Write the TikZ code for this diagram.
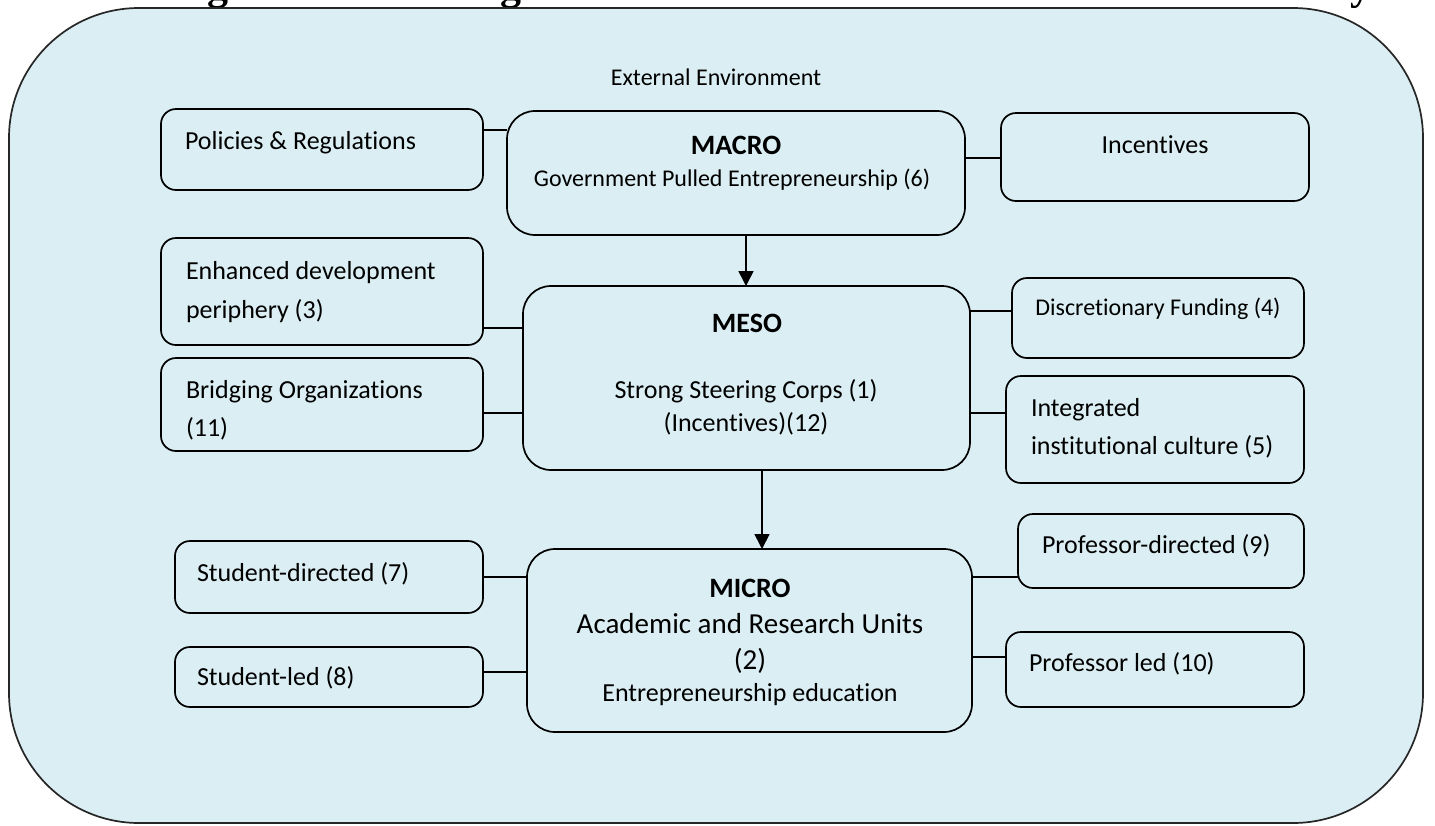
\documentclass[tikz,border=0pt]{standalone}
\usepackage{fontspec}
\setmainfont{Carlito}[Ligatures=NoCommon]
\newfontfamily\titlefont{Liberation Serif}
\usetikzlibrary{arrows.meta}
\definecolor{envfill}{HTML}{DAEEF3}
\begin{document}
\begin{tikzpicture}[x=1pt,y=-1pt,
  box/.style={draw=black, line width=1.7pt, fill=envfill, rounded corners=15pt, inner sep=0pt, outer sep=0pt},
  bigbox/.style={box, rounded corners=28pt},
  txt/.style={inner sep=0pt, outer sep=0pt, font=\fontsize{26}{39}\selectfont},
  smalltxt/.style={txt, font=\fontsize{24}{29}\selectfont},
  headtxt/.style={txt, font=\bfseries\fontsize{28}{34}\selectfont},
  conn/.style={line width=1.7pt},
  arr/.style={line width=1.7pt, -{Triangle[width=15pt,length=15pt]}}]
\useasboundingbox (0,0) rectangle (1435,825);
\fill[white] (0,0) rectangle (1435,825);

% title (clipped by page top, as in the reference)
\node[inner sep=0pt, anchor=base east, font=\titlefont\bfseries\fontsize{42}{50}\selectfont] (title) at (1372,-1) {Figure 1: The Integrated Multi-Level Framework of the University};

% environment
\node[draw=black!85, line width=1.7pt, fill=envfill, rounded corners=130pt, inner sep=0pt,
      minimum width=1414pt, minimum height=815pt] (env) at (716,415.5) {};
\node[smalltxt, anchor=base] (envt) at (716,85) {External Environment};

% boxes
\node[box, minimum width=322pt, minimum height=81pt]  (pol)   at (322,149.5) {};
\node[bigbox, minimum width=458pt, minimum height=124pt] (macro) at (736,173) {};
\node[box, minimum width=308pt, minimum height=88pt]  (inc)   at (1155,157) {};
\node[box, minimum width=322pt, minimum height=107pt] (enh)   at (322,291.5) {};
\node[bigbox, minimum width=447pt, minimum height=184pt] (meso) at (746.5,378) {};
\node[box, minimum width=292pt, minimum height=80pt]  (disc)  at (1158,318) {};
\node[box, minimum width=322pt, minimum height=93pt]  (bri)   at (322,404.5) {};
\node[box, minimum width=298pt, minimum height=107pt] (integ) at (1155,429.5) {};
\node[box, minimum width=308pt, minimum height=72pt]  (sd)    at (329,577) {};
\node[bigbox, minimum width=445pt, minimum height=183pt] (micro) at (749.5,640.5) {};
\node[box, minimum width=308pt, minimum height=60pt]  (sl)    at (329,677) {};
\node[box, minimum width=286pt, minimum height=74pt]  (pd)    at (1161,551) {};
\node[box, minimum width=298pt, minimum height=75pt]  (pl)    at (1155,669.5) {};

% texts
\node[txt, anchor=base west] (polt) at (185,149) {Policies \& Regulations};
\node[headtxt, anchor=base] (macrot) at (736,154) {MACRO};
\node[smalltxt, anchor=base] (macros) at (732,186) {Government Pulled Entrepreneurship (6)};
\node[txt, anchor=base] (inct) at (1155,153) {Incentives};
\node[txt, anchor=north west, align=left] (enht) at (186,255.6) {\rule{0pt}{0.9em}Enhanced development\\periphery (3)};
\node[headtxt, anchor=base] (mesot) at (747,332) {MESO};
\node[txt, anchor=north, align=center, font=\fontsize{26}{33}\selectfont] (mesos) at (746,374.6) {\rule{0pt}{0.9em}Strong Steering Corps (1)\\(Incentives)(12)};
\node[smalltxt, anchor=base] (disct) at (1158,315) {Discretionary Funding (4)};
\node[txt, anchor=north west, align=left, font=\fontsize{26}{38}\selectfont] (brit) at (186,374.6) {\rule{0pt}{0.9em}Bridging Organizations\\(11)};
\node[txt, anchor=north west, align=left, font=\fontsize{26}{38}\selectfont] (integt) at (1031,392.6) {\rule{0pt}{0.9em}Integrated\\institutional culture (5)};
\node[txt, anchor=base west] (sdt) at (197,581) {Student-directed (7)};
\node[txt, anchor=base west] (slt) at (197,685) {Student-led (8)};
\node[txt, anchor=base west] (pdt) at (1042,553) {Professor-directed (9)};
\node[txt, anchor=base west] (plt) at (1029,671) {Professor led (10)};
\node[headtxt, anchor=base] (microt) at (750,597) {MICRO};
\node[txt, anchor=north, align=center, font=\fontsize{29}{36}\selectfont] (micros) at (750,606.9) {\rule{0pt}{0.9em}Academic and Research Units\\(2)};
\node[txt, anchor=base] (microe) at (750,701) {Entrepreneurship education};

% connector levels
\coordinate (hA) at (0,130);
\coordinate (hB) at (0,158);
\coordinate (hC) at (0,328);
\coordinate (hD) at (0,413);
\coordinate (hE) at (0,311);
\coordinate (hF) at (0,577);
\coordinate (hG) at (0,672);
\coordinate (hH) at (0,657);
\coordinate (vA) at (746,0);
\coordinate (vB) at (762,0);

\draw[conn] (pol.east |- hA) -- (macro.west |- hA);
\draw[conn] (macro.east |- hB) -- (inc.west |- hB);
\draw[conn] (enh.east |- hC) -- (meso.west |- hC);
\draw[conn] (bri.east |- hD) -- (meso.west |- hD);
\draw[conn] (meso.east |- hE) -- (disc.west |- hE);
\draw[conn] (meso.east |- hD) -- (integ.west |- hD);
\draw[conn] (sd.east |- hF) -- (micro.west |- hF);
\draw[conn] (sl.east |- hG) -- (micro.west |- hG);
\draw[conn] (micro.east |- hF) -- (pd.west |- hF);
\draw[conn] (micro.east |- hH) -- (pl.west |- hH);

\draw[arr] (macro.south -| vA) -- (meso.north -| vA);
\draw[arr] (meso.south -| vB) -- (micro.north -| vB);
\end{tikzpicture}
\end{document}
